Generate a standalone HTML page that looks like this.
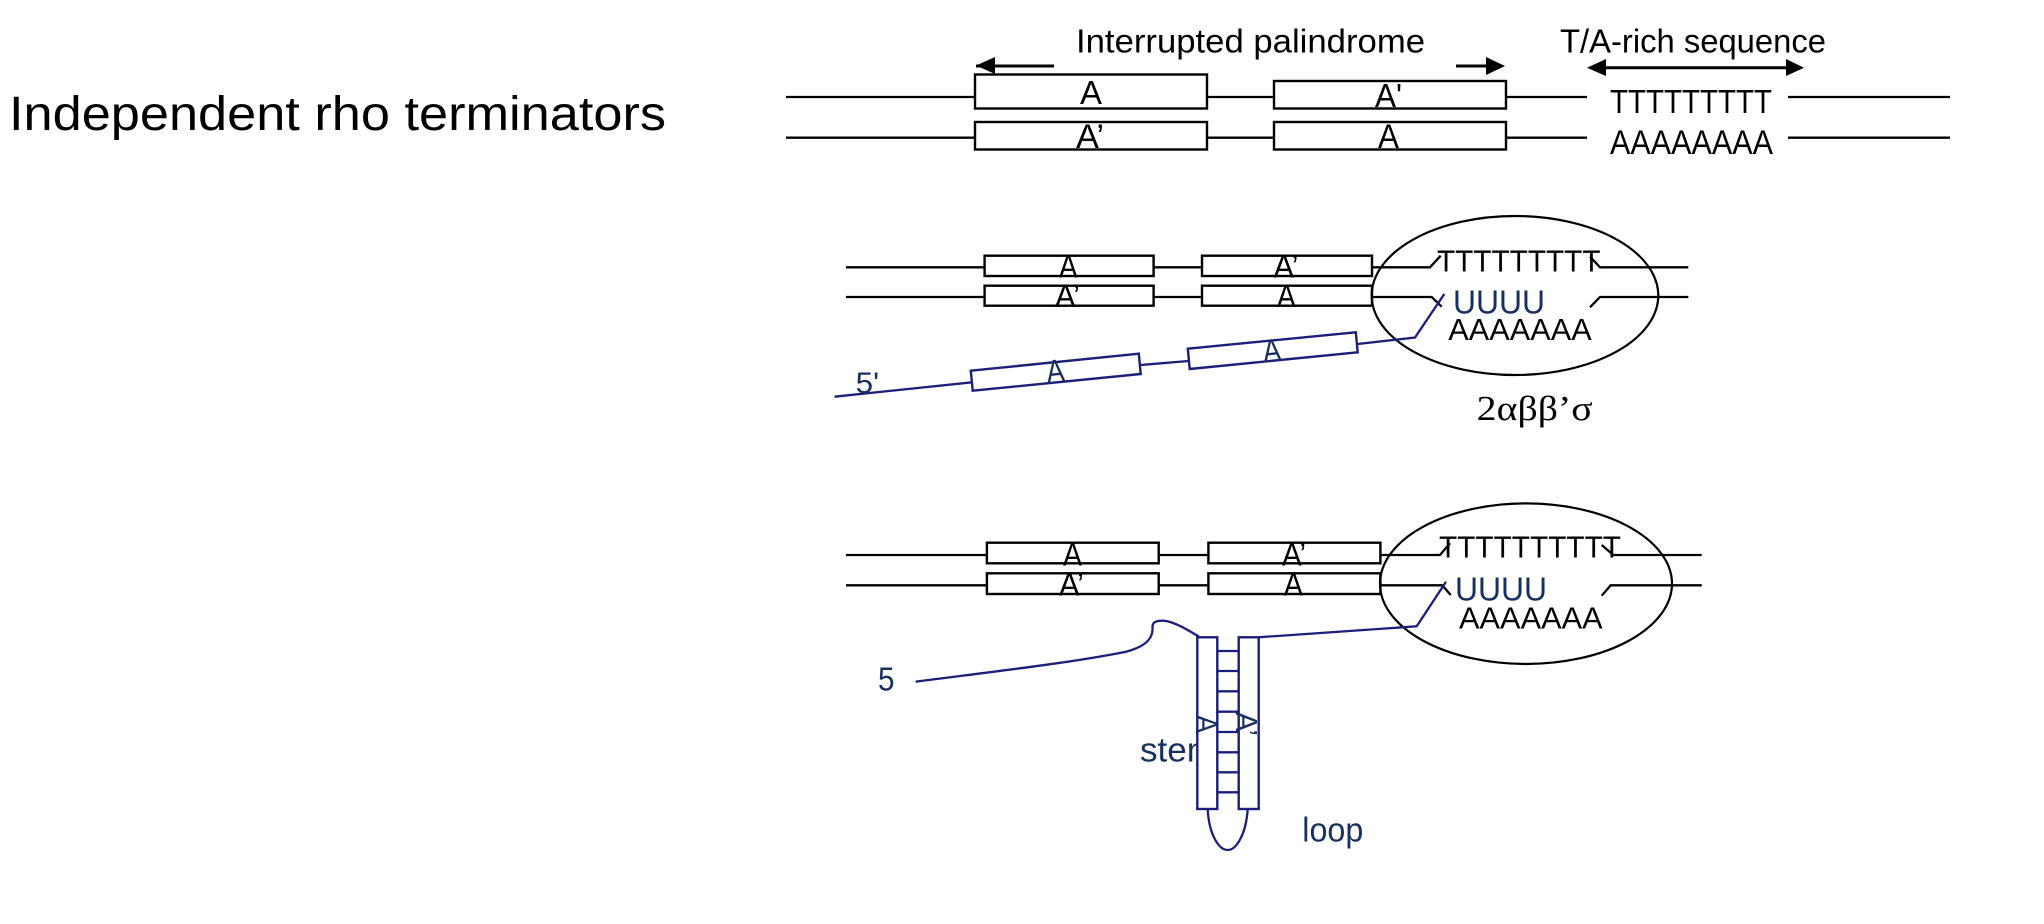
<!DOCTYPE html>
<html><head><meta charset="utf-8"><style>
html,body{margin:0;padding:0;background:#fff;width:2044px;height:924px;overflow:hidden}
svg{display:block}
text{font-family:"Liberation Sans",sans-serif}
.l{fill:none;stroke:#000;stroke-width:2.3}
.b{fill:#fff;stroke:#000;stroke-width:2.4}
.n{fill:none;stroke:#1b1f7a;stroke-width:2.3}
.nb{fill:#fff;stroke:#1b1f7a;stroke-width:2.4}
.t{fill:#17305f}
</style></head><body>
<svg width="2044" height="924" viewBox="0 0 2044 924" xmlns="http://www.w3.org/2000/svg">
<text x="9" y="130" font-size="48" textLength="657" lengthAdjust="spacingAndGlyphs">Independent rho terminators</text>

<!-- top -->
<text x="1076" y="52.7" font-size="33" textLength="349" lengthAdjust="spacingAndGlyphs">Interrupted palindrome</text>
<text x="1560" y="52.7" font-size="33" textLength="266" lengthAdjust="spacingAndGlyphs">T/A-rich sequence</text>
<path d="M976 66H1054M1456 66H1500M1600 67.7H1790" fill="none" stroke="#000" stroke-width="3"/>
<polygon points="976,65.5 995,57 995,74"/>
<polygon points="1505,66 1486,57 1486,75"/>
<polygon points="1587,67.7 1606,59 1606,76"/>
<polygon points="1804,67.7 1786,59 1786,76"/>
<path class="l" d="M786 97H1587M1788 97H1950M786 137.7H1587M1788 137.7H1950"/>
<rect class="b" x="975" y="74.5" width="232" height="34"/>
<rect class="b" x="1274" y="81" width="232" height="27.5"/>
<rect class="b" x="975" y="122" width="232" height="27.5"/>
<rect class="b" x="1274" y="122" width="232" height="27.5"/>
<text x="1080" y="104" font-size="33" textLength="22" lengthAdjust="spacingAndGlyphs">A</text>
<text x="1375" y="107" font-size="33" textLength="27" lengthAdjust="spacingAndGlyphs">A'</text>
<text x="1076" y="148" font-size="34" textLength="28" lengthAdjust="spacingAndGlyphs">A’</text>
<text x="1378" y="148" font-size="34" textLength="21" lengthAdjust="spacingAndGlyphs">A</text>
<text x="1610" y="113" font-size="33" textLength="162" lengthAdjust="spacingAndGlyphs">TTTTTTTTT</text>
<text x="1610" y="154" font-size="34" textLength="163" lengthAdjust="spacingAndGlyphs">AAAAAAAA</text>

<!-- middle -->
<path class="l" d="M846 267.3H1430L1440.7 255.7M1590 256.7L1600 267.3H1688.3M846 297H1431.7L1441.7 306.7M1590 307.3L1600 297H1688.3"/>
<rect class="b" x="984.6" y="255.7" width="169" height="20.3"/>
<rect class="b" x="1202" y="255.7" width="170" height="20.3"/>
<rect class="b" x="984.6" y="285.7" width="169" height="20"/>
<rect class="b" x="1202" y="285.7" width="170" height="20"/>
<text x="1059" y="277.3" font-size="32" textLength="18.5" lengthAdjust="spacingAndGlyphs">A</text>
<text x="1273.5" y="277.3" font-size="32" textLength="25" lengthAdjust="spacingAndGlyphs">A’</text>
<text x="1055" y="307" font-size="32" textLength="25" lengthAdjust="spacingAndGlyphs">A’</text>
<text x="1277" y="307" font-size="32" textLength="18.7" lengthAdjust="spacingAndGlyphs">A</text>
<ellipse cx="1515" cy="295.5" rx="143.3" ry="79.5" fill="none" stroke="#000" stroke-width="2.2"/>
<path class="n" d="M834.5 396.7L972 382.3M1140.7 365L1188.5 361M1357.7 344L1415 337.5L1444.3 294"/>
<polygon class="nb" points="970.8,370.7 1138.8,353.7 1140.7,374 972.7,390.7"/>
<polygon class="nb" points="1187.8,348.7 1355.8,332.3 1357.7,352.3 1189.7,369"/>
<text class="t" transform="translate(1047.5 382.7) rotate(-6)" font-size="32" textLength="18" lengthAdjust="spacingAndGlyphs">A</text>
<text class="t" transform="translate(1264 362.3) rotate(-6)" font-size="32" textLength="18" lengthAdjust="spacingAndGlyphs">A</text>
<text class="t" x="855.6" y="393" font-size="30" textLength="23.5" lengthAdjust="spacingAndGlyphs">5'</text>
<text x="1437" y="271.7" font-size="31" textLength="163.5" lengthAdjust="spacingAndGlyphs">TTTTTTTTT</text>
<text class="t" x="1453" y="313.7" font-size="33" textLength="92" lengthAdjust="spacingAndGlyphs">UUUU</text>
<text x="1448.3" y="340" font-size="31" textLength="143.4" lengthAdjust="spacingAndGlyphs">AAAAAAA</text>
<text x="1476.7" y="420" font-size="35" textLength="116" lengthAdjust="spacingAndGlyphs" style="font-family:'Liberation Serif',serif">2αββ’σ</text>

<!-- bottom -->
<path class="l" d="M846 555H1440L1450 543.3M1601.7 545L1613.3 555H1701.7M846 585.3H1442.3L1450.7 595M1601.7 595.7L1610.7 585.3H1701.7"/>
<rect class="b" x="986.9" y="542.7" width="171.8" height="20.6"/>
<rect class="b" x="1208.4" y="542.7" width="172" height="20.6"/>
<rect class="b" x="986.9" y="573.3" width="171.8" height="20.7"/>
<rect class="b" x="1208.4" y="573.3" width="172" height="20.7"/>
<text x="1063" y="565.7" font-size="32" textLength="19" lengthAdjust="spacingAndGlyphs">A</text>
<text x="1282" y="565.7" font-size="32" textLength="24" lengthAdjust="spacingAndGlyphs">A’</text>
<text x="1059" y="595.7" font-size="32" textLength="25" lengthAdjust="spacingAndGlyphs">A’</text>
<text x="1283.8" y="595.7" font-size="32" textLength="19.2" lengthAdjust="spacingAndGlyphs">A</text>
<ellipse cx="1526" cy="583.7" rx="146" ry="80.3" fill="none" stroke="#000" stroke-width="2.2"/>
<text x="1439" y="557.7" font-size="31" textLength="182" lengthAdjust="spacingAndGlyphs">TTTTTTTTTT</text>
<text class="t" x="1455" y="600.7" font-size="33" textLength="92" lengthAdjust="spacingAndGlyphs">UUUU</text>
<text x="1459" y="628.3" font-size="31" textLength="143.7" lengthAdjust="spacingAndGlyphs">AAAAAAA</text>
<path class="n" d="M1258 637.3L1416.7 626.3L1446 581.7"/>
<path class="n" d="M915.7 681.7C990 672 1070 663 1126 651.7C1148 646 1153 637 1152.5 628C1152 622 1156 620.5 1164 620.7C1175 622 1188 630 1199 636.7" stroke-width="2.4"/>
<text class="t" x="878" y="690.7" font-size="33" textLength="16.5" lengthAdjust="spacingAndGlyphs">5</text>
<text class="t" x="1140" y="761.7" font-size="34" textLength="76" lengthAdjust="spacingAndGlyphs">stem</text>
<path class="n" d="M1207.7 809C1209 835 1219 850 1227.7 850C1236 850 1246 835 1247.7 809"/>
<path class="n" d="M1217.3 651H1238.7M1217.3 671H1238.7M1217.3 691.3H1238.7M1217.3 711.7H1238.7M1217.3 732H1238.7M1217.3 752.3H1238.7M1217.3 772.3H1238.7M1217.3 792.3H1238.7"/>
<rect class="nb" x="1197.3" y="637.3" width="20" height="171.7"/>
<rect class="nb" x="1238.7" y="637.3" width="20" height="171.7"/>
<text class="t" transform="translate(1196 715) rotate(90)" font-size="31" textLength="18.3" lengthAdjust="spacingAndGlyphs">A</text>
<text class="t" transform="translate(1236 711.7) rotate(90)" font-size="31" textLength="24.3" lengthAdjust="spacingAndGlyphs">A’</text>
<text class="t" x="1302.3" y="841.7" font-size="34" textLength="61" lengthAdjust="spacingAndGlyphs">loop</text>
</svg>
</body></html>
